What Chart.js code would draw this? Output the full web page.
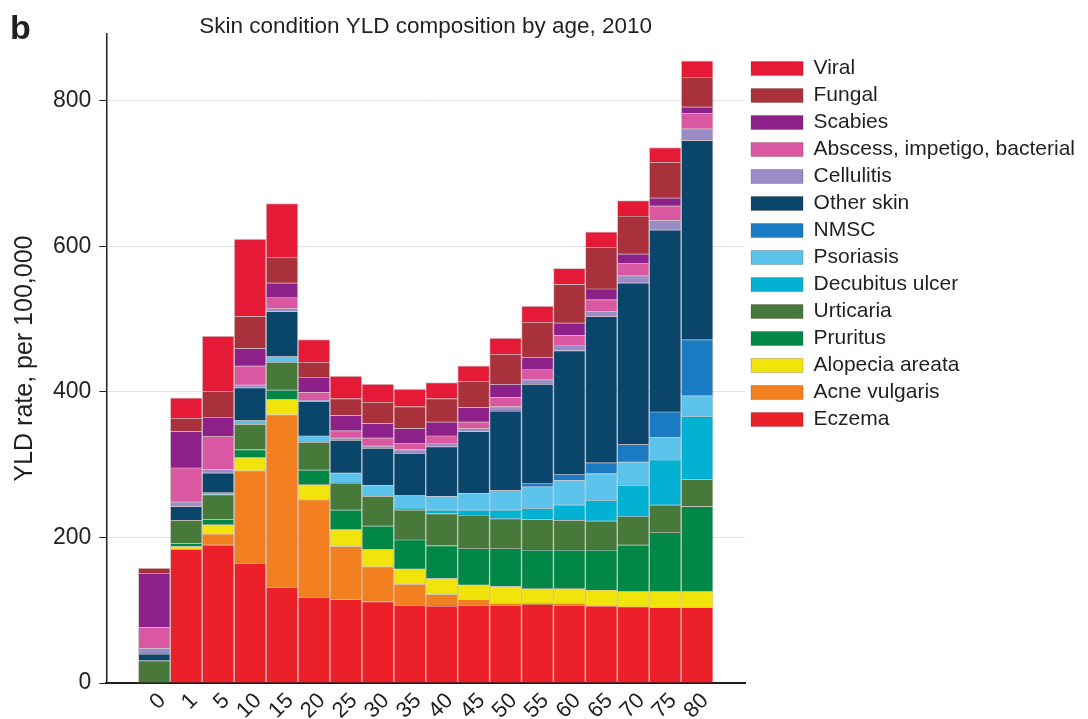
<!DOCTYPE html>
<html>
<head>
<meta charset="utf-8">
<script src="https://cdn.jsdelivr.net/npm/chart.js@4"></script>
<style>
  body { margin: 0; background: #fff; }
  #wrap { width: 1088px; height: 719px; }
</style>
</head>
<body>
<div id="wrap"><canvas id="yldChart" width="1088" height="719"></canvas></div>
<script>
// age groups (x categories)
const ages = ['0', '1', '5', '10', '15', '20', '25', '30', '35', '40', '45', '50', '55', '60', '65', '70', '75', '80'];
const yTicks = [0, 200, 400, 600, 800];

// YLD rate per 100,000, bottom of the stack first
const eczema     = [0, 184, 190, 165, 132, 118, 115, 112, 107, 106, 107, 107, 108, 107, 106, 105, 104, 104];
const acne       = [0, 0, 15, 127, 237, 134, 73, 48, 29, 16, 8, 3, 2, 3, 0, 0, 0, 0];
const alopecia   = [0, 4, 13, 18, 21, 21, 23, 24, 21, 22, 20, 23, 20, 20, 22, 21, 22, 22];
const pruritus   = [0, 4, 7, 11, 13, 20, 27, 32, 40, 45, 50, 52, 53, 53, 55, 64, 81, 117];
const urticaria  = [31, 32, 34, 35, 38, 38, 37, 41, 41, 44, 46, 41, 42, 41, 40, 39, 38, 37];
const decubitus  = [0, 0, 0, 0, 0, 0, 0, 0, 3, 5, 7, 12, 15, 21, 28, 43, 62, 87];
const psoriasis  = [0, 0, 3, 5, 8, 9, 14, 15, 17, 19, 23, 27, 30, 34, 37, 32, 31, 28];
const nmsc       = [0, 0, 0, 0, 0, 0, 0, 0, 0, 0, 0, 0, 5, 8, 15, 24, 35, 77];
const otherSkin  = [9, 19, 27, 45, 62, 47, 45, 51, 58, 68, 85, 109, 136, 170, 201, 222, 250, 274];
const cellulitis = [8, 6, 5, 4, 4, 2, 3, 3, 5, 5, 4, 6, 6, 7, 7, 10, 13, 16];
const abscess    = [29, 47, 45, 26, 15, 11, 10, 11, 9, 10, 9, 13, 14, 14, 16, 17, 20, 21];
const scabies    = [74, 50, 26, 24, 20, 20, 21, 20, 20, 19, 20, 18, 17, 17, 15, 13, 11, 9];
const fungal     = [7, 18, 36, 44, 35, 21, 23, 29, 30, 32, 36, 41, 48, 53, 57, 52, 49, 41];
const viral      = [0, 28, 76, 106, 74, 31, 31, 25, 24, 22, 21, 22, 22, 22, 21, 21, 20, 22];

const FONT = '"Liberation Sans", Arial, Helvetica, sans-serif';
const INK = '#231f20';

// one empty slot either side of the bars, like the original axis
const pad = arr => [null].concat(arr, [null]);

const series = [
  ['Eczema', eczema, '#ec2029'],
  ['Acne vulgaris', acne, '#f28020'],
  ['Alopecia areata', alopecia, '#f1e40a'],
  ['Pruritus', pruritus, '#018846'],
  ['Urticaria', urticaria, '#477a3a'],
  ['Decubitus ulcer', decubitus, '#03b1d3'],
  ['Psoriasis', psoriasis, '#5cc3ec'],
  ['NMSC', nmsc, '#1b7bc2'],
  ['Other skin', otherSkin, '#0a456c'],
  ['Cellulitis', cellulitis, '#9a8cc6'],
  ['Abscess, impetigo, bacterial', abscess, '#da57a2'],
  ['Scabies', scabies, '#8c2189'],
  ['Fungal', fungal, '#a8313b'],
  ['Viral', viral, '#e41a36']
];

// let the legend take its natural width instead of the half-width cap
const wideLegend = {
  id: 'wideLegend',
  beforeInit(chart) {
    const fit = chart.legend.fit;
    chart.legend.fit = function () {
      fit.call(this);
      if (this.columnSizes && this.columnSizes.length) {
        this.width = this.columnSizes.reduce((s, c) => s + c.width, 0) + 10;
      }
    };
  }
};

const headerPlugin = {
  id: 'header',
  afterDraw(chart) {
    const { ctx, chartArea } = chart;
    ctx.save();
    ctx.fillStyle = INK;
    ctx.font = 'bold 34px ' + FONT;
    ctx.textBaseline = 'alphabetic';
    ctx.fillText('b', 10, 39);
    ctx.font = '22.5px ' + FONT;
    ctx.textAlign = 'center';
    ctx.fillText('Skin condition YLD composition by age, 2010', (chartArea.left + chartArea.right) / 2, 33);
    ctx.restore();
  }
};

const ctx = document.getElementById('yldChart').getContext('2d');
new Chart(ctx, {
  type: 'bar',
  data: {
    labels: pad(ages).map(a => a === null ? '' : a),
    datasets: series.map(([label, values, color]) => ({
      label: label,
      data: pad(values),
      backgroundColor: color,
      borderColor: 'rgba(60,0,0,0.2)',
      borderWidth: 1,
      barPercentage: 1,
      categoryPercentage: 1
    }))
  },
  options: {
    responsive: false,
    animation: false,
    layout: { padding: { left: 10, top: 34, right: 9, bottom: -10 } },
    plugins: {
      tooltip: { enabled: false },
      title: { display: false },
      legend: {
        position: 'right',
        align: 'start',
        reverse: true,
        title: { display: true, text: '', font: { size: 10 }, padding: { top: 0, bottom: 6 } },
        labels: {
          boxWidth: 52,
          boxHeight: 14,
          padding: 6,
          color: INK,
          font: { family: FONT, size: 21 }
        }
      }
    },
    scales: {
      x: {
        stacked: true,
        grid: { display: false, drawTicks: false },
        border: { display: true, color: INK, width: 2 },
        ticks: {
          autoSkip: false,
          minRotation: 45,
          maxRotation: 45,
          padding: 5,
          labelOffset: 8,
          color: INK,
          font: { family: FONT, size: 22 }
        }
      },
      y: {
        stacked: true,
        min: 0,
        max: 892,
        afterBuildTicks: axis => {
          axis.ticks = axis.ticks.filter(t => yTicks.includes(t.value));
        },
        grid: { color: '#e4e4e4', tickColor: INK, tickLength: 7, lineWidth: 1 },
        border: { display: true, color: INK, width: 1.5 },
        ticks: {
          padding: 8,
          color: INK,
          font: { family: FONT, size: 23 }
        },
        title: {
          display: true,
          text: 'YLD rate, per 100,000',
          color: INK,
          font: { family: FONT, size: 25 },
          padding: { top: 0, bottom: 5 }
        }
      }
    }
  },
  plugins: [wideLegend, headerPlugin]
});
</script>
</body>
</html>
